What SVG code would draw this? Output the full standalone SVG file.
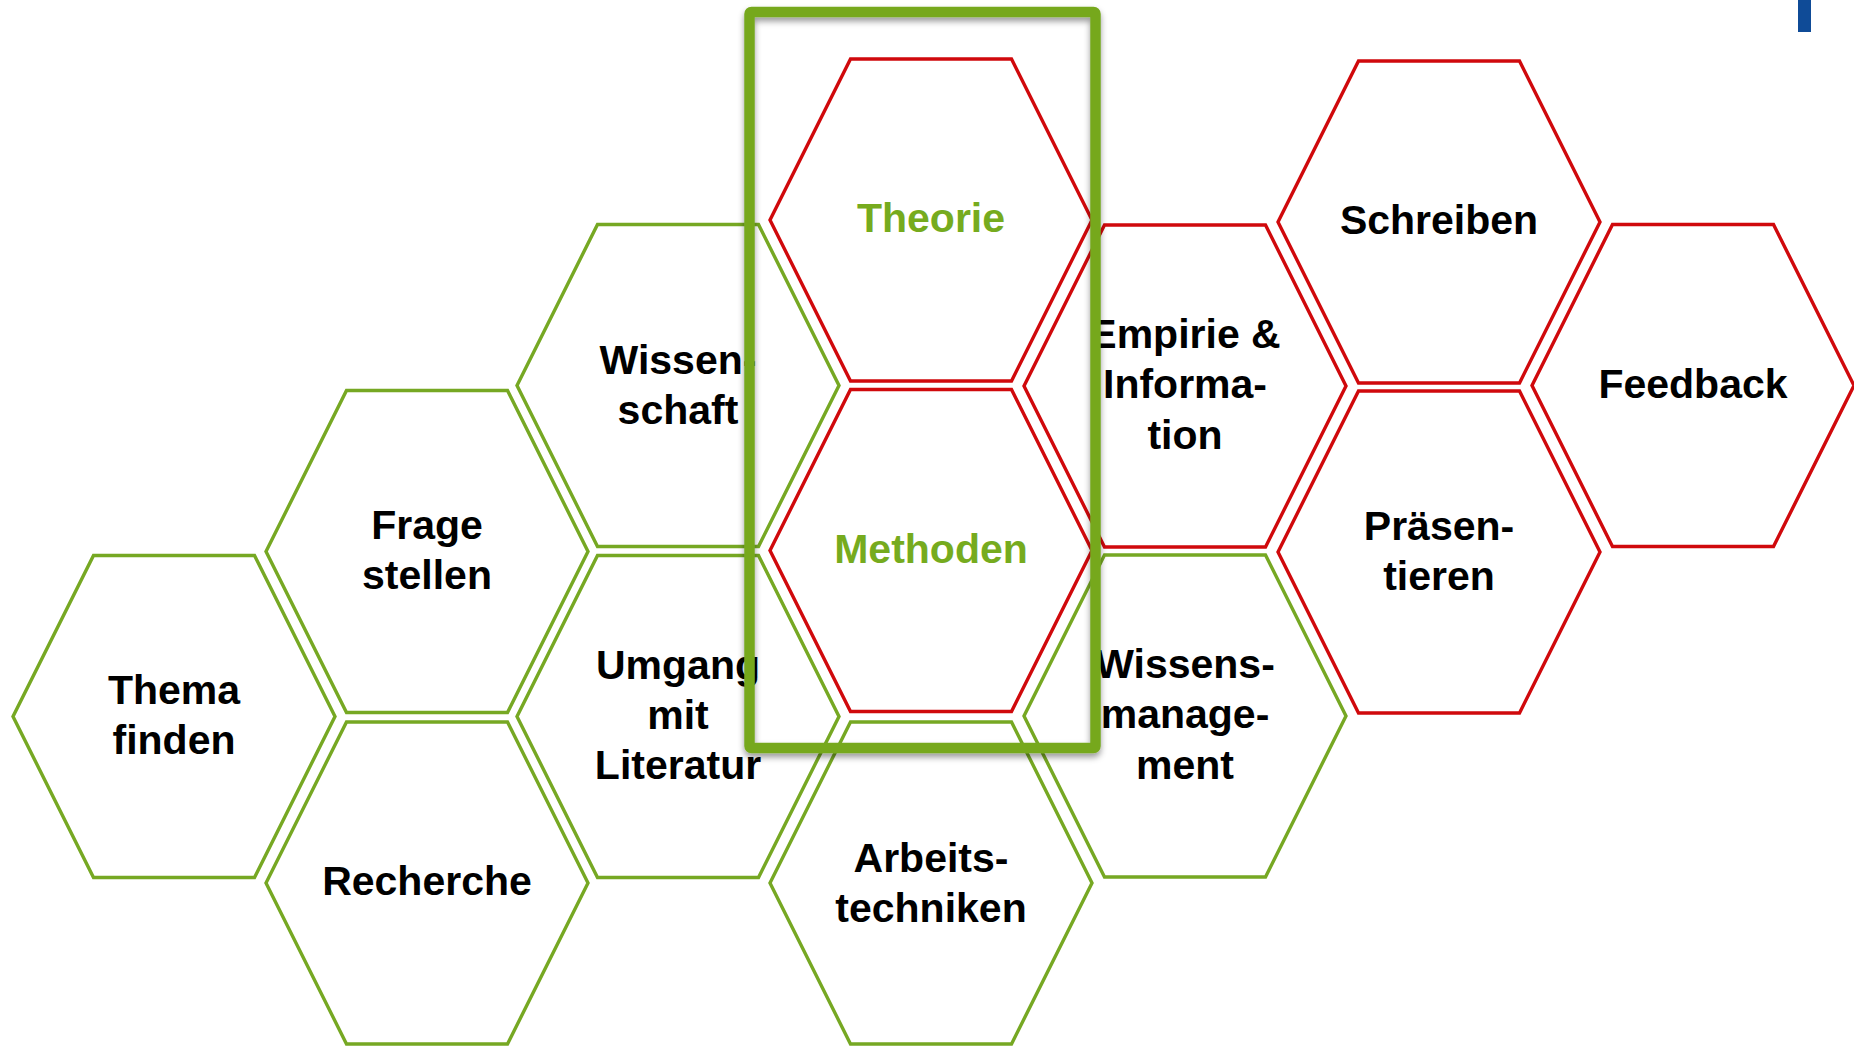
<svg xmlns="http://www.w3.org/2000/svg" xmlns:xlink="http://www.w3.org/1999/xlink" width="1854" height="1047" viewBox="0 0 1854 1047">
<style>
.hex{fill:none;stroke-width:3.4;stroke-linejoin:miter}
.g{stroke:#76a823}
.r{stroke:#d0090c}
text{font-family:"Liberation Sans",Arial,Helvetica,sans-serif;font-weight:bold;font-size:41px;text-anchor:middle;fill:#000}
text.gt{fill:#76ab1e}
</style>
<defs>
<polygon id="hx" points="-161,0 -80.5,-161 80.5,-161 161,0 80.5,161 -80.5,161"/>
<filter id="sh" x="-10%" y="-10%" width="120%" height="120%">
<feDropShadow dx="0" dy="4" stdDeviation="3" flood-color="#000" flood-opacity="0.4"/>
</filter>
</defs>
<rect width="1854" height="1047" fill="#fff"/>
<rect x="1798" y="0" width="13" height="32" fill="#0f4b97"/>

<g id="thema-finden"><use xlink:href="#hx" class="hex g" x="174" y="716.5"/><text x="174" y="704">Thema</text><text x="174" y="754">finden</text></g>
<g id="frage-stellen"><use xlink:href="#hx" class="hex g" x="427" y="551.5"/><text x="427" y="539">Frage</text><text x="427" y="589">stellen</text></g>
<g id="recherche"><use xlink:href="#hx" class="hex g" x="427" y="883"/><text x="427" y="895">Recherche</text></g>
<g id="wissenschaft"><use xlink:href="#hx" class="hex g" x="678" y="385.5"/><text x="678" y="373.5">Wissen-</text><text x="678" y="423.5">schaft</text></g>
<g id="umgang-mit-literatur"><use xlink:href="#hx" class="hex g" x="678" y="716.5"/><text x="678" y="679">Umgang</text><text x="678" y="729">mit</text><text x="678" y="779">Literatur</text></g>
<g id="theorie"><use xlink:href="#hx" class="hex r" x="931" y="220"/><text class="gt" x="931" y="232">Theorie</text></g>
<g id="methoden"><use xlink:href="#hx" class="hex r" x="931" y="550.5"/><text class="gt" x="931" y="562.5">Methoden</text></g>
<g id="arbeitstechniken"><use xlink:href="#hx" class="hex g" x="931" y="883"/><text x="931" y="871.5">Arbeits-</text><text x="931" y="921.5">techniken</text></g>
<g id="empirie-information"><use xlink:href="#hx" class="hex r" x="1185" y="386"/><text x="1185" y="347.5">Empirie &amp;</text><text x="1185" y="398">Informa-</text><text x="1185" y="448.5">tion</text></g>
<g id="wissensmanagement"><use xlink:href="#hx" class="hex g" x="1185" y="716"/><text x="1185" y="677.5">Wissens-</text><text x="1185" y="728">manage-</text><text x="1185" y="778.5">ment</text></g>
<g id="schreiben"><use xlink:href="#hx" class="hex r" x="1439" y="222"/><text x="1439" y="234">Schreiben</text></g>
<g id="praesentieren"><use xlink:href="#hx" class="hex r" x="1439" y="552"/><text x="1439" y="539.5">Präsen-</text><text x="1439" y="589.5">tieren</text></g>
<g id="feedback"><use xlink:href="#hx" class="hex r" x="1693" y="385.5"/><text x="1693" y="397.5">Feedback</text></g>

<g id="highlight-frame"><rect x="749.5" y="12" width="346" height="736" rx="2" fill="none" stroke="#76a81f" stroke-width="10.5" filter="url(#sh)"/></g>
<g id="connectors"></g>
</svg>
